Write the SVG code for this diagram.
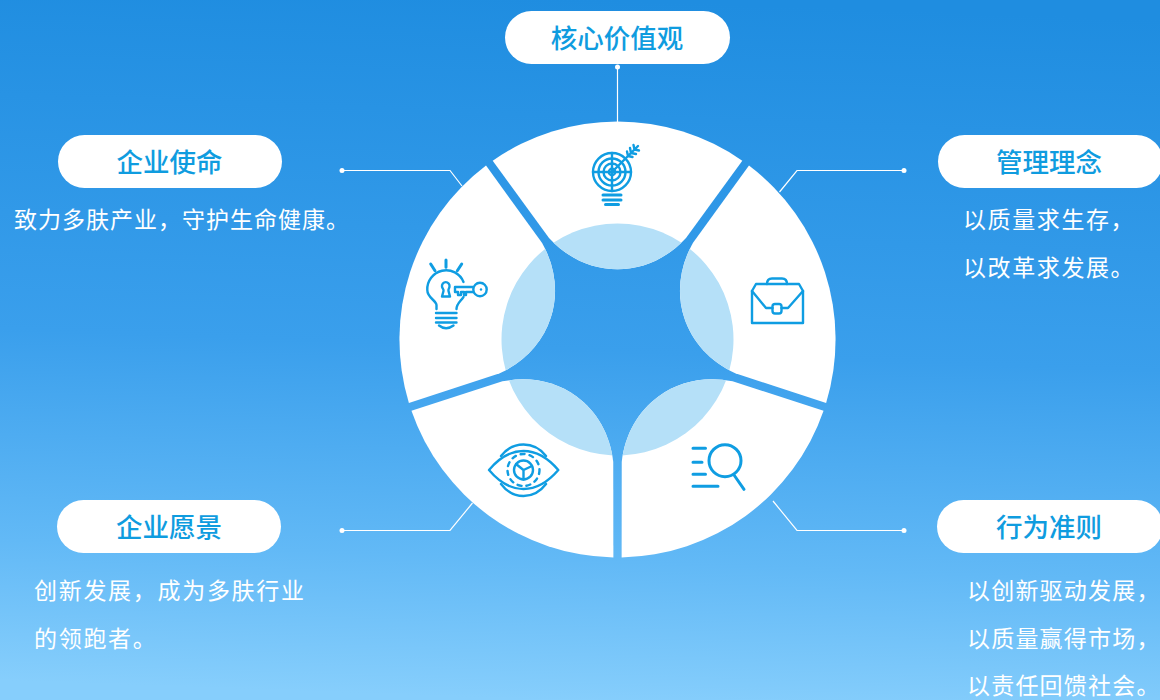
<svg xmlns="http://www.w3.org/2000/svg" width="1160" height="700" viewBox="0 0 1160 700">
<style>
.pill{fill:#fff}
.title{font-family:"Noto Sans CJK SC","Liberation Sans",sans-serif;font-size:26.5px;font-weight:500;fill:#0f9cdf;text-anchor:middle;letter-spacing:0}
.body{font-family:"Noto Sans CJK SC","Liberation Sans",sans-serif;font-size:23px;font-weight:400;fill:#fff;letter-spacing:1.4px}
.lead{fill:none;stroke:#fff;stroke-width:1.2}
.dot{fill:#fff}
.ic{fill:none;stroke:#0f9de2;stroke-width:2.4;stroke-linecap:round;stroke-linejoin:round}
.ict{fill:none;stroke:#0f9de2;stroke-width:3;stroke-linecap:round}
</style>
<defs>
<linearGradient id="bg" x1="0.53" y1="0" x2="0.47" y2="1">
<stop offset="0" stop-color="#1f8de0"/>
<stop offset="0.5" stop-color="#3a9fec"/>
<stop offset="0.8" stop-color="#62b9f6"/>
<stop offset="1" stop-color="#86cefc"/>
</linearGradient>
<path id="segp" d="M492.7 160.7A218 218 0 0 1 742.3 160.7L686 238C667 258.4 643 269.3 617.5 269.3C592 269.3 568 258.4 549 238Z"/>
<clipPath id="segc"><use href="#segp"/></clipPath>
<g id="seg">
<use href="#segp" fill="#fff"/>
<circle cx="617.5" cy="339.5" r="116" fill="#b5e0f8" clip-path="url(#segc)"/>
</g>
</defs>
<rect width="1160" height="700" fill="url(#bg)"/>
<g id="ring">
<use href="#seg"/>
<use href="#seg" transform="rotate(72 617.5 339.5)"/>
<use href="#seg" transform="rotate(144 617.5 339.5)"/>
<use href="#seg" transform="rotate(216 617.5 339.5)"/>
<use href="#seg" transform="rotate(288 617.5 339.5)"/>
</g>
<g id="connectors">
<path class="lead" d="M617.5 67V122"/><circle class="dot" cx="617.5" cy="67" r="2.5"/>
<path class="lead" d="M342 170.5H450L462 186"/><circle class="dot" cx="342" cy="170.5" r="2.5"/>
<path class="lead" d="M904 170.5H797L779.5 192"/><circle class="dot" cx="904" cy="170.5" r="2.5"/>
<path class="lead" d="M342 530.5H450L472.5 503"/><circle class="dot" cx="342" cy="530.5" r="2.5"/>
<path class="lead" d="M904 530.5H797L773 501"/><circle class="dot" cx="904" cy="530.5" r="2.5"/>
</g>
<g id="node-core">
<rect class="pill" x="505" y="11" width="225" height="53" rx="26.5"/>
<text class="title" x="617" y="48">核心价值观</text>
<g id="icon-target">
<circle class="ic" cx="612" cy="172" r="19"/><circle class="ic" cx="612" cy="172" r="13.5"/><circle class="ic" cx="612" cy="172" r="8.5"/><circle class="ic" cx="612" cy="172" r="3.2"/>
<path class="ic" d="M593 172H631M612 153V191M612 172L638 146M628 156L627 151.5M628 156L632.5 157M631 153L630 148M631 153L636 154M634.5 149.5L633.5 145M634.5 149.5L639 150.5"/>
<path class="ict" d="M603 195H621M603 200H621M605.5 204.5H618.5"/>
</g>
</g>
<g id="node-mission">
<rect class="pill" x="58" y="135" width="224" height="53" rx="26.5"/>
<text class="title" x="169.5" y="172">企业使命</text>
<text class="body" style="letter-spacing:1px" x="14" y="228">致力多肤产业，守护生命健康。</text>
<g id="icon-key">
<path class="ict" d="M446 260V267.3M430.7 264L435 270.7M461.7 264L457.3 270.7"/>
<path class="ic" d="M436.5 309V305C436 300 427.3 298 427.3 290A18.8 18.8 0 0 1 463.5 282M463.5 297C460 302 456.5 304 456.5 309"/>
<path class="ic" d="M442 286.5A3.8 3.8 0 1 1 449.5 286.5C449.5 288.5 448 289 448.5 291L450 296.5H442L443.5 291C444 289 442 288.5 442 286.5Z"/>
<path class="ic" d="M436 313H456.5M436 318H456.5M436 322.5H456.5M439 325.5Q446 331 453.5 325.5"/>
<circle class="ic" cx="480" cy="289.5" r="6.7"/><circle cx="481" cy="289.5" r="1.2" fill="#0f9de2"/>
<path class="ic" d="M473 287H455V292H458V295H461V292H464V295H466V292H473"/>
</g>
</g>
<g id="node-philosophy">
<rect class="pill" x="938" y="135" width="225" height="53" rx="26.5"/>
<text class="title" x="1049" y="172">管理理念</text>
<text class="body" style="letter-spacing:1.6px" x="963" y="228">以质量求生存，</text>
<text class="body" style="letter-spacing:1.6px" x="963" y="276">以改革求发展。</text>
<g id="icon-case">
<path class="ic" d="M756 284H799L803 291V323H752V291Z"/>
<path class="ic" d="M767 284Q767 278.5 772 278.5H782Q787 278.5 787 284"/>
<path class="ic" d="M752 291L766 308H772.5M781.5 308H788L803 291"/>
<rect class="ic" x="772.5" y="304" width="9" height="9.5" rx="2.5"/>
</g>
</g>
<g id="node-conduct">
<rect class="pill" x="937" y="500" width="226" height="53" rx="26.5"/>
<text class="title" x="1049" y="537">行为准则</text>
<text class="body" style="letter-spacing:1.2px" x="967" y="599">以创新驱动发展，</text>
<text class="body" style="letter-spacing:1.2px" x="967" y="647">以质量赢得市场，</text>
<text class="body" style="letter-spacing:1.2px" x="967" y="694">以责任回馈社会。</text>
<g id="icon-search">
<circle class="ic" cx="725" cy="460.7" r="16" style="stroke-width:3"/>
<path class="ict" d="M734 475L744 489.3M693 448.3H705.5M693 462.3H702M693 474.3H705.5M693 486.3H718"/>
</g>
</g>
<g id="node-vision">
<rect class="pill" x="57" y="500" width="224" height="53" rx="26.5"/>
<text class="title" x="169" y="537">企业愿景</text>
<text class="body" style="letter-spacing:1.7px" x="34" y="599">创新发展，成为多肤行业</text>
<text class="body" style="letter-spacing:1.7px" x="34" y="647">的领跑者。</text>
<g id="icon-eye">
<path class="ic" d="M489 470Q505 451 523.5 451Q542 451 558.3 470Q542 489 523.5 489Q505 489 489 470Z"/>
<path class="ic" d="M501 456Q510 444.5 523.5 444.5Q537 444.5 546 456M501 484Q510 496 523.5 496Q537 496 546 484"/>
<circle class="ic" cx="523.5" cy="470" r="16" stroke-dasharray="4 5"/>
<circle class="ic" cx="523.5" cy="470" r="9.5"/>
<path class="ic" d="M523.5 470L516 464M523.5 470L532 466M523.5 470V479.5"/>
</g>
</g>
</svg>
